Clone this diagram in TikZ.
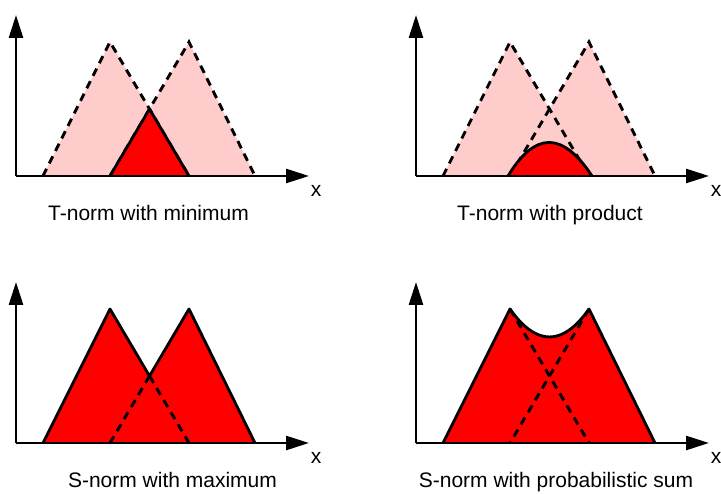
\documentclass[tikz,border=0pt]{standalone}
\usepackage{fontspec}
\setmainfont{Liberation Sans}
\usetikzlibrary{arrows.meta}
\definecolor{palered}{RGB}{255,204,204}
\definecolor{fullred}{RGB}{255,0,0}
\tikzset{
  axis/.style={line width=2.6pt, -{Triangle[length=23pt,width=14pt]}},
  outline/.style={line width=2.8pt, line join=round},
  dashline/.style={line width=2.9pt, dash pattern=on 8pt off 6pt},
  caption/.style={anchor=base, font=\fontsize{21}{25}\selectfont},
}

\begin{document}
\begin{tikzpicture}[x=1pt, y=1pt]
\useasboundingbox (0,0) rectangle (721,494);

% T-norm with minimum
\begin{scope}[shift={(16,318)}]
\fill[palered] (27,0) -- (94,134) -- (173,0) -- cycle;
\fill[palered] (94,0) -- (173,134) -- (239,0) -- cycle;
\draw[dashline] (27,0) -- (94,134) -- (173,0);
\draw[dashline] (94,0) -- (173,134) -- (239,0);
\fill[fullred] (94,0) -- (133.5,67) -- (173,0) -- cycle;
\draw[outline] (94,0) -- (133.5,67) -- (173,0);
\draw[axis] (0,0) -- (0,161);
\draw[axis] (0,0) -- (293,0);
\node (xmin) [caption] at (300,-21) {x};
\node (capmin) [caption] at (132.5,-45) {T-norm with minimum};
\end{scope}

% T-norm with product
\begin{scope}[shift={(416,318)}]
\fill[palered] (27,0) -- (94,134) -- (173,0) -- cycle;
\fill[palered] (94,0) -- (173,134) -- (239,0) -- cycle;
\draw[dashline] (27,0) -- (94,134) -- (173,0);
\draw[dashline] (94,0) -- (173,134) -- (239,0);
\fill[fullred] (92,0) .. controls (119,44.7) and (146.7,44.7) .. (176,0) -- cycle;
\draw[outline] (92,0) .. controls (119,44.7) and (146.7,44.7) .. (176,0);
\draw[axis] (0,0) -- (0,161);
\draw[axis] (0,0) -- (293,0);
\node (xprod) [caption] at (300,-21) {x};
\node (capprod) [caption] at (134,-45) {T-norm with product};
\end{scope}

% S-norm with maximum
\begin{scope}[shift={(16,51)}]
\fill[fullred] (27,0) -- (94,134) -- (133.5,67) -- (173,134) -- (239,0) -- cycle;
\draw[dashline] (133.5,67) -- (173,0);
\draw[dashline] (133.5,67) -- (94,0);
\draw[outline] (27,0) -- (94,134) -- (133.5,67) -- (173,134) -- (239,0);
\draw[axis] (0,0) -- (0,161);
\draw[axis] (0,0) -- (293,0);
\node (xmax) [caption] at (300,-21) {x};
\node (capmax) [caption] at (156.5,-45) {S-norm with maximum};
\end{scope}

% S-norm with probabilistic sum
\begin{scope}[shift={(416,51)}]
\fill[fullred] (27,0) -- (94,134) .. controls (120.3,96.7) and (146.7,96.7) .. (173,134) -- (239,0) -- cycle;
\draw[dashline] (94,134) -- (173,0);
\draw[dashline] (173,134) -- (94,0);
\draw[outline] (27,0) -- (94,134) .. controls (120.3,96.7) and (146.7,96.7) .. (173,134) -- (239,0);
\draw[axis] (0,0) -- (0,161);
\draw[axis] (0,0) -- (293,0);
\node (xsum) [caption] at (300,-21) {x};
\node (capsum) [caption] at (140,-45) {S-norm with probabilistic sum};
\end{scope}
\end{tikzpicture}
\end{document}
